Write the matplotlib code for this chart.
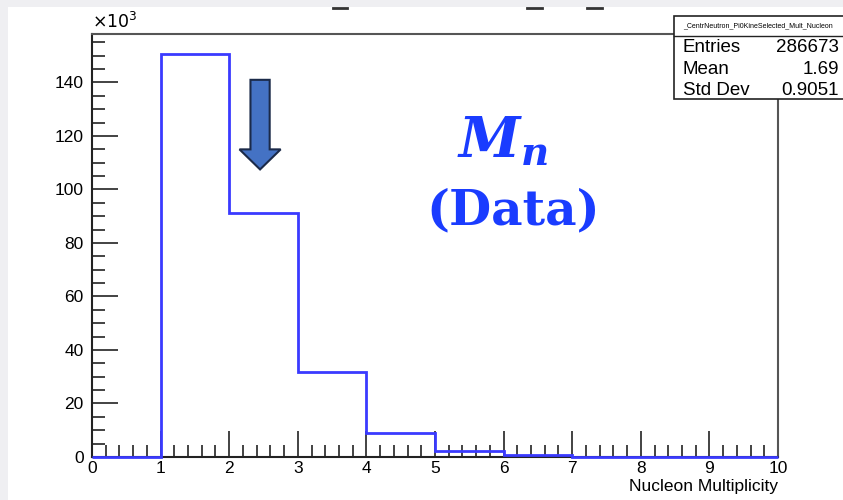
import matplotlib
matplotlib.use('Agg')
import matplotlib.pyplot as plt
from matplotlib.patches import Rectangle, FancyArrow
from matplotlib.lines import Line2D
from matplotlib.ticker import MultipleLocator

# histogram content (in units of 10^3 entries)
bin_edges = [0, 1, 2, 3, 4, 5, 6, 7, 8, 9, 10]
counts = [0.0, 150.6, 91.4, 31.8, 8.8, 2.2, 0.6, 0.15, 0.05, 0.02]

hist_name = '_CentrNeutron_Pi0KineSelected_Mult_Nucleon'
stat_names = ['Entries', 'Mean', 'Std Dev']
stat_values = ['286673', '1.69', '0.9051']

W, H = 843, 500
plt.rcParams['font.family'] = ['Liberation Sans', 'DejaVu Sans']
plt.rcParams['mathtext.fontset'] = 'dejavuserif'

fig = plt.figure(figsize=(W / 100, H / 100), dpi=100)
fig.patch.set_facecolor('#efeff2')


def fx(px):
    return px / W


def fy(py):
    return 1 - py / H


# white pad area (screenshot border is grey)
fig.add_artist(Rectangle((fx(8), 0), 1 - fx(8), fy(7), transform=fig.transFigure,
                         facecolor='white', edgecolor='none', zorder=0))

ax = fig.add_axes([fx(92), fy(457), fx(778) - fx(92), fy(34) - fy(457)])
ax.set_facecolor('white')
ax.stairs(counts, bin_edges, color='#3a3aff', linewidth=2.0, zorder=3, clip_on=False)

ax.set_xlim(0, 10)
ax.set_ylim(0, 1.05 * max(counts))
ax.xaxis.set_major_locator(MultipleLocator(1))
ax.xaxis.set_minor_locator(MultipleLocator(0.2))
ax.yaxis.set_major_locator(MultipleLocator(20))
ax.yaxis.set_minor_locator(MultipleLocator(5))
ax.tick_params(which='both', direction='in', color='#222222', width=1.2,
               labelsize=12.5, top=False, right=False)
ax.tick_params(which='major', length=19)
ax.tick_params(which='minor', length=9)
ax.tick_params(axis='y', pad=6)
ax.tick_params(axis='x', pad=3)
for s in ax.spines.values():
    s.set_color('#555555')
    s.set_linewidth(1.5)
ax.spines['left'].set_color('#222222')
ax.spines['bottom'].set_color('#222222')

ax.text(0, 1.005, r'$\times10^{3}$', transform=ax.transAxes, fontsize=12.5,
        ha='left', va='bottom', family='DejaVu Sans', math_fontfamily='dejavusans')
fig.text(fx(778), fy(487), 'Nucleon Multiplicity', ha='right', va='center', fontsize=12.5)

# arrow pointing to the second bin
arrow_x, arrow_top, arrow_tip = 2.45, 141, 107.5
ax.add_patch(FancyArrow(arrow_x, arrow_top, 0, arrow_tip - arrow_top, width=0.28,
                        head_width=0.6, head_length=7.5, length_includes_head=True,
                        facecolor='#4472c4', edgecolor='#1b2a49', linewidth=1.5, zorder=4))

# labels
fig.text(fx(503), fy(142), r'$\mathbfit{M}_{\mathbfit{n}}$', color='#1a3cff',
         fontsize=40, ha='center', va='center')
fig.text(fx(513), fy(211), '(Data)', color='#1a3cff', fontsize=35,
         fontweight='bold', family='DejaVu Serif', ha='center', va='center')

# stats box
fig.add_artist(Rectangle((fx(674), fy(99)), 1 - fx(674) + 0.01, fy(16) - fy(99),
                         transform=fig.transFigure, facecolor='white',
                         edgecolor='#222222', linewidth=1.2, zorder=5))
fig.add_artist(Line2D([fx(674), 1], [fy(36), fy(36)], transform=fig.transFigure,
                      color='#222222', linewidth=1.0, zorder=6))
fig.text(fx(758), fy(26), hist_name, ha='center', va='center', fontsize=5, zorder=6)
for i, (n, v) in enumerate(zip(stat_names, stat_values)):
    y = fy(48 + i * 21.5)
    fig.text(fx(683), y, n, ha='left', va='center', fontsize=13.5, zorder=6)
    fig.text(fx(839), y, v, ha='right', va='center', fontsize=13.5, zorder=6)

# cut-off title remnants at the top edge
for x0, x1 in [(333, 347), (527, 542), (587, 602)]:
    fig.add_artist(Line2D([fx(x0), fx(x1)], [fy(7.5), fy(7.5)], transform=fig.transFigure,
                          color='#333333', linewidth=2))

fig.savefig('out.png', dpi=100)
